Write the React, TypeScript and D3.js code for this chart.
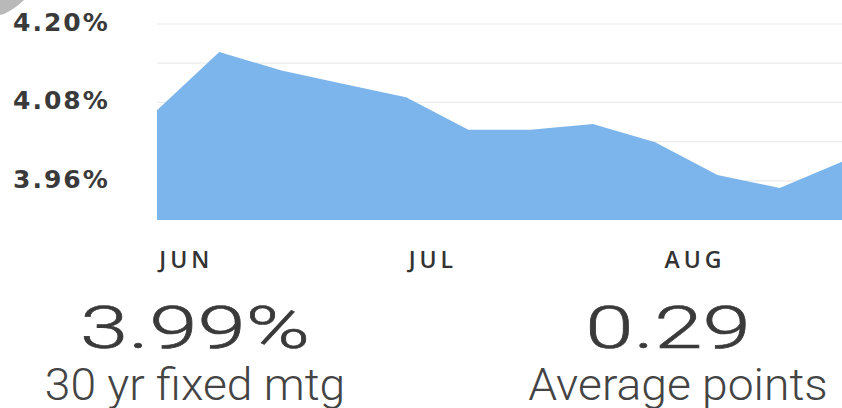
import React from "react";
import * as d3 from "d3";

// Weekly 30-yr fixed mortgage rate (%)
const weeks = [0, 1, 2, 3, 4, 5, 6, 7, 8, 9, 10, 11];
const rates = [4.068, 4.157, 4.129, 4.108, 4.088, 4.038, 4.038, 4.047, 4.019, 3.969, 3.949, 3.989];

// Axis ticks
const yTickValues = [4.2, 4.14, 4.08, 4.02, 3.96];
const yLabelValues = [4.2, 4.08, 3.96];
const monthLabels = ["JUN", "JUL", "AUG"];
const monthPositions = [0.47, 4.43, 8.64]; // in week units

// Summary figures
const summaryValues = ["3.99%", "0.29"];
const summaryCaptions = ["30 yr fixed mtg", "Average points"];

const W = 842;
const H = 408;

export default function App() {
  const x = d3.scaleLinear().domain([0, 11]).range([157, 842]);
  const y = d3.scaleLinear().domain([3.9, 4.2]).range([220, 24]);

  const area = d3
    .area<number>()
    .x((_, i) => x(weeks[i]))
    .y0(y(3.9))
    .y1((d) => y(d));

  const summaryX = [
    { value: 195, caption: 195 },
    { value: 668, caption: 678 },
  ];

  return (
    <svg
      width={W}
      height={H}
      style={{ position: "absolute", left: 0, top: 0, background: "#fff" }}
    >
      <path d="M0,0 L24,0 Q16,8 4,14 L0,15 Z" fill="#b9b9b9" />
      {yTickValues.map((v) => (
        <line
          key={v}
          x1={157}
          x2={842}
          y1={y(v)}
          y2={y(v)}
          stroke="#ececec"
          strokeWidth={1.2}
        />
      ))}
      <path d={area(rates) || ""} fill="#7cb5ec" />
      {yLabelValues.map((v) => (
        <text
          key={v}
          x={13}
          y={y(v) - 2}
          dy="0.35em"
          fontFamily="'DejaVu Sans', sans-serif"
          fontWeight={700}
          fontSize={25}
          letterSpacing={2}
          fill="#3a3a3a"
        >
          {d3.format(".2f")(v)}%
        </text>
      ))}
      {monthLabels.map((m, i) => (
        <text
          key={m}
          x={x(monthPositions[i])}
          y={268}
          textAnchor="middle"
          fontFamily="'Open Sans', sans-serif"
          fontWeight={600}
          fontSize={23}
          letterSpacing={4}
          fill="#333"
        >
          {m}
        </text>
      ))}
      {summaryValues.map((s, i) => (
        <text
          key={s}
          transform={`translate(${summaryX[i].value},348) scale(1.45,1)`}
          textAnchor="middle"
          fontFamily="Roboto, sans-serif"
          fontWeight={300}
          fontSize={60}
          stroke="#3a3a3a"
          strokeWidth={0.6}
          fill="#3a3a3a"
        >
          {s}
        </text>
      ))}
      {summaryCaptions.map((s, i) => (
        <text
          key={s}
          transform={`translate(${summaryX[i].caption},400) scale(1.05,1)`}
          textAnchor="middle"
          fontFamily="Roboto, sans-serif"
          fontWeight={300}
          fontSize={44}
          fill="#444"
        >
          {s}
        </text>
      ))}
    </svg>
  );
}
